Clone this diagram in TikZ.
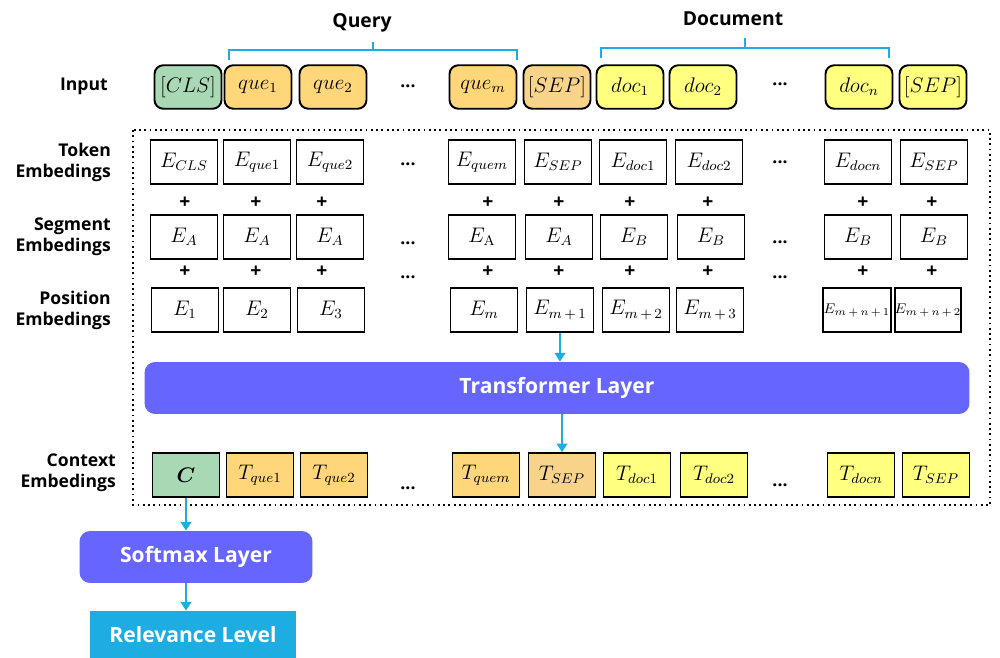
\documentclass[tikz,border=0pt]{standalone}
\usepackage{amsmath}
\usepackage{fontspec}
\setsansfont{Open Sans}
\usetikzlibrary{arrows.meta,positioning}
\definecolor{clsgreen}{HTML}{A9D9B4}
\definecolor{queorange}{HTML}{FFD67A}
\definecolor{sepbeige}{HTML}{F7D48A}
\definecolor{docyellow}{HTML}{FFFF80}
\definecolor{layerpurple}{HTML}{6666FF}
\definecolor{linkblue}{HTML}{1EADE3}
\tikzset{
  tokbox/.style={draw, line width=1.1pt, minimum width=1.34cm, minimum height=0.87cm, inner sep=0pt, font=\fontsize{12}{12}\selectfont},
  inbox/.style={tokbox, rounded corners=5pt},
  rowlabel/.style={anchor=east, align=right, font=\sffamily\bfseries\fontsize{10}{12}\selectfont},
  plussign/.style={font=\sffamily\bfseries\fontsize{11}{11}\selectfont},
  dotsign/.style={font=\sffamily\bfseries\fontsize{10}{10}\selectfont},
  layer/.style={fill=layerpurple, rounded corners=6pt, text=white, minimum height=1.04cm, font=\sffamily\bfseries\fontsize{12}{12}\selectfont},
  link/.style={linkblue, line width=1.5pt, -{Triangle[length=5pt,width=6pt]}},
  brace/.style={linkblue, line width=1.5pt},
}
\begin{document}
\begin{tikzpicture}[x=0.02cm, y=-0.02cm]
  \useasboundingbox (0,0) rectangle (1000,658);
  % row labels
  \node[rowlabel] (lin) at (114,86) {Input};
  \node[rowlabel] (ltok) at (117,162) {Token\\Embedings};
  \node[rowlabel] (lseg) at (117,237) {Segment\\Embedings};
  \node[rowlabel] (lpos) at (117,310) {Position\\Embedings};
  \node[rowlabel] (lctx) at (122,473) {Context\\Embedings};
  % input tokens
  \node[inbox, fill=clsgreen] (inCLS) at (188,87) {$[CLS]$};
  \node[inbox, fill=queorange] (inQ1) at (258,87) {$que_1$};
  \node[inbox, fill=queorange] (inQ2) at (333,87) {$que_2$};
  \node[inbox, fill=queorange] (inQm) at (483,87) {$que_m$};
  \node[inbox, fill=sepbeige] (inSEPa) at (557,87) {$[SEP]$};
  \node[inbox, fill=docyellow] (inD1) at (630,87) {$doc_1$};
  \node[inbox, fill=docyellow] (inD2) at (703,87) {$doc_2$};
  \node[inbox, fill=docyellow] (inDn) at (859,87) {$doc_n$};
  \node[inbox, fill=docyellow] (inSEPb) at (933,87) {$[SEP]$};
  \node[dotsign] (indotsA) at (408,86) {...};
  \node[dotsign] (indotsB) at (780,84) {...};
  % query / document brackets
  \coordinate (qL) at (229,60);
  \coordinate (qR) at (517,60);
  \coordinate (qM) at (373,42);
  \draw[brace] (qL) -- (229,50) -- (517,50) -- (qR);
  \draw[brace] (qM) -- (373,50);
  \node[font=\sffamily\bfseries\fontsize{11}{11}\selectfont] (query) at (362,23) {Query};
  \coordinate (dL) at (601,58);
  \coordinate (dR) at (889,58);
  \coordinate (dM) at (745,38);
  \draw[brace] (dL) -- (601,48) -- (889,48) -- (dR);
  \draw[brace] (dM) -- (745,48);
  \node[font=\sffamily\bfseries\fontsize{11}{11}\selectfont] (document) at (733,19) {Document};
  % dotted frame
  \draw[dotted, line width=1pt] (133,130) rectangle (990,505);
  % token embeddings
  \node[tokbox] (tokCLS) at (184,162) {$E_{CLS}$};
  \node[tokbox] (tokQ1) at (257,162) {$E_{que1}$};
  \node[tokbox] (tokQ2) at (330,162) {$E_{que2}$};
  \node[tokbox] (tokQm) at (482,162) {$E_{quem}$};
  \node[tokbox] (tokSEPa) at (558,162) {$E_{SEP}$};
  \node[tokbox] (tokD1) at (633,162) {$E_{doc1}$};
  \node[tokbox] (tokD2) at (709,162) {$E_{doc2}$};
  \node[tokbox] (tokDn) at (858,162) {$E_{docn}$};
  \node[tokbox] (tokSEPb) at (934,162) {$E_{SEP}$};
  \node[dotsign] (tokdotsA) at (408,164) {...};
  \node[dotsign] (tokdotsB) at (780,162) {...};
  % segment embeddings
  \node[tokbox] (segCLS) at (184,237) {$E_A$};
  \node[tokbox] (segQ1) at (257,237) {$E_A$};
  \node[tokbox] (segQ2) at (330,237) {$E_A$};
  \node[tokbox] (segQm) at (482,237) {$E_{\mathrm{A}}$};
  \node[tokbox] (segSEPa) at (559,237) {$E_A$};
  \node[tokbox] (segD1) at (634,237) {$E_B$};
  \node[tokbox] (segD2) at (711,237) {$E_B$};
  \node[tokbox] (segDn) at (858,237) {$E_B$};
  \node[tokbox] (segSEPb) at (934,237) {$E_B$};
  \node[dotsign] (segdotsA) at (408,243) {...};
  \node[dotsign] (segdotsB) at (780,242) {...};
  % position embeddings
  \node[tokbox] (posCLS) at (185,310) {$E_1$};
  \node[tokbox] (posQ1) at (257,310) {$E_2$};
  \node[tokbox] (posQ2) at (331,310) {$E_3$};
  \node[tokbox] (posQm) at (484,310) {$E_m$};
  \node[tokbox] (posSEPa) at (560,310) {$E_{m\,+\,1}$};
  \node[tokbox] (posD1) at (636,310) {$E_{m\,+\,2}$};
  \node[tokbox] (posD2) at (710,310) {$E_{m\,+\,3}$};
  \node[tokbox, minimum width=1.36cm, font=\fontsize{8}{8}\selectfont] (posDn) at (857,310) {$E_{m\,+\,n\,+\,1}$};
  \node[tokbox, minimum width=1.26cm, font=\fontsize{8}{8}\selectfont] (posSEPb) at (928,310) {$E_{m\,+\,n\,+\,2}$};
  \node[dotsign] (posdotsA) at (408,277) {...};
  \node[dotsign] (posdotsB) at (780,277) {...};
  % plus signs
  \foreach \px in {185,256,322,488,559,630,708,863,932} {
    \node[plussign] at (\px,203) {+};
    \node[plussign] at (\px,272) {+};
  }
  % transformer
  \node[layer, minimum width=16.5cm] (trans) at (557,388) {Transformer Layer};
  % context embeddings
  \node[tokbox, fill=clsgreen] (ctxC) at (186,475) {$\boldsymbol{C}$};
  \node[tokbox, fill=queorange] (ctxQ1) at (260,475) {$T_{que1}$};
  \node[tokbox, fill=queorange] (ctxQ2) at (334,475) {$T_{que2}$};
  \node[tokbox, fill=queorange] (ctxQm) at (486,475) {$T_{quem}$};
  \node[tokbox, fill=sepbeige] (ctxSEPa) at (562,475) {$T_{SEP}$};
  \node[tokbox, fill=docyellow] (ctxD1) at (637,475) {$T_{doc1}$};
  \node[tokbox, fill=docyellow] (ctxD2) at (714,475) {$T_{doc2}$};
  \node[tokbox, fill=docyellow] (ctxDn) at (861,475) {$T_{docn}$};
  \node[tokbox, fill=docyellow] (ctxSEPb) at (936,475) {$T_{SEP}$};
  \node[dotsign] (ctxdotsA) at (408,488) {...};
  \node[dotsign] (ctxdotsB) at (780,485) {...};
  % output layers
  \node[layer, minimum width=4.66cm] (soft) at (196,557) {Softmax Layer};
  \node[fill=linkblue, text=white, minimum width=4.14cm, minimum height=0.94cm, font=\sffamily\bfseries\fontsize{12}{12}\selectfont] (rel) at (193,634.5) {Relevance Level};
  % arrows
  \draw[link] (posSEPa.south) -- (posSEPa.south |- trans.north);
  \draw[link] (trans.south -| ctxSEPa.north) -- (ctxSEPa.north);
  \draw[link] (ctxC.south) -- (ctxC.south |- soft.north);
  \draw[link] (soft.south -| ctxC.south) -- (ctxC.south |- rel.north);
\end{tikzpicture}
\end{document}
